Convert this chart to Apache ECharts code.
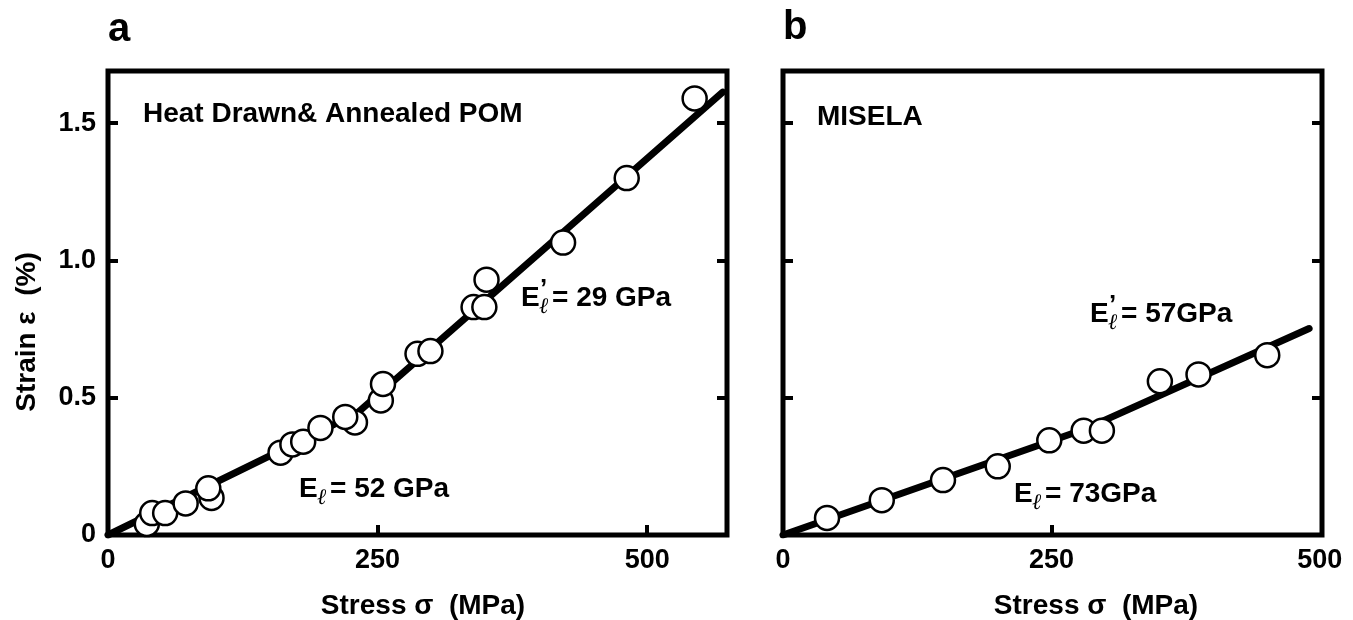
<!DOCTYPE html>
<html>
<head>
<meta charset="utf-8">
<script src="https://cdn.jsdelivr.net/npm/echarts@6/dist/echarts.min.js"></script>
<style>
  html, body { margin: 0; padding: 0; background: #fff; }
  #chart { width: 1353px; height: 620px; }
</style>
</head>
<body>
<div id="chart"></div>
<script>
// Panel a: heat drawn & annealed POM — stress (MPa) vs strain (%)
const stressA = [36, 41, 53, 72, 96, 93, 160, 171, 181, 197, 229, 220, 253, 255, 287, 299, 339, 349, 351, 422, 481, 544];
const strainA = [0.04, 0.08, 0.08, 0.115, 0.135, 0.17, 0.30, 0.33, 0.34, 0.39, 0.41, 0.43, 0.49, 0.55, 0.66, 0.67, 0.83, 0.83, 0.93, 1.065, 1.30, 1.59];
// Two-slope fit for panel a (El = 52 GPa, then E'l = 29 GPa)
const fitStressA = [0, 231, 570];
const fitStrainA = [0, 0.444, 1.613];

// Panel b: MISELA
const stressB = [41, 92, 149, 200, 248, 280, 297, 351, 387, 451];
const strainB = [0.062, 0.127, 0.20, 0.25, 0.345, 0.38, 0.38, 0.56, 0.585, 0.655];
// Two-slope fit for panel b (El = 73 GPa, then E'l = 57 GPa)
const fitStressB = [0, 280, 490];
const fitStrainB = [0, 0.384, 0.752];

// Axis ticks and labels
const xLabelsA = [0, 250, 500];
const xTicksA = [250, 500];
const xLabelsB = [0, 250, 500];
const xTicksB = [250];
const yLabels = [0, 0.5, 1.0, 1.5];
const yTicks = [0.5, 1.0, 1.5];

const FONT = "'Liberation Sans', Arial, Helvetica, sans-serif";
const pairs = (xs, ys) => xs.map((x, i) => [x, ys[i]]);

const tickStyle = { show: true, inside: true, length: 10, lineStyle: { color: '#000', width: 4 } };
const labelStyle = { color: '#000', fontFamily: FONT, fontWeight: 'bold', fontSize: 27 };

function xAxis(gridIndex, max, labels, ticks) {
  return {
    type: 'value', gridIndex, min: 0, max,
    axisLine: { show: false }, splitLine: { show: false },
    axisTick: Object.assign({ customValues: ticks }, tickStyle),
    axisLabel: Object.assign({ customValues: labels, margin: 12 }, labelStyle)
  };
}
function yAxis(gridIndex, position, showLabels) {
  return {
    type: 'value', gridIndex, position, min: 0, max: 1.69,
    axisLine: { show: false }, splitLine: { show: false },
    axisTick: Object.assign({ customValues: yTicks }, tickStyle),
    axisLabel: Object.assign({
      show: showLabels, customValues: yLabels, margin: 12,
      formatter: v => (v === 0 ? '0' : v.toFixed(1))
    }, labelStyle)
  };
}

function lineSeries(xi, yi, xs, ys) {
  return {
    type: 'line', xAxisIndex: xi, yAxisIndex: yi, data: pairs(xs, ys),
    showSymbol: false, symbol: 'none', z: 2, silent: true,
    lineStyle: { color: '#000', width: 7, cap: 'round' }
  };
}
function dotSeries(xi, yi, xs, ys) {
  return {
    type: 'scatter', xAxisIndex: xi, yAxisIndex: yi, data: pairs(xs, ys),
    symbol: 'circle', symbolSize: 24, z: 3,
    itemStyle: { color: '#fff', borderColor: '#000', borderWidth: 2.5, opacity: 1 }
  };
}

function txt(x, y, text, size, extra) {
  return {
    type: 'text', x, y, z: 10,
    style: Object.assign({
      text, fill: '#000', fontFamily: FONT, fontWeight: 'bold', fontSize: size,
      align: 'left', verticalAlign: 'middle'
    }, extra || {})
  };
}

// Modulus label: E with subscript script-l, optional prime, then the value
function modulus(x, y, prime, rest) {
  const children = [
    txt(0, 0, 'E', 28),
    txt(18, 9, 'ℓ', 22, { fontFamily: "'DejaVu Serif', serif", fontStyle: 'italic', fontWeight: 'normal' }),
    txt(31, 0, rest, 28)
  ];
  if (prime) children.push(txt(19, -8, '’', 26));
  return { type: 'group', x, y, children };
}

const chart = echarts.init(document.getElementById('chart'), null, { renderer: 'canvas' });

chart.setOption({
  animation: false,
  backgroundColor: '#fff',
  grid: [
    { left: 108, right: 626, top: 71, bottom: 85, show: true, borderColor: '#000', borderWidth: 5, backgroundColor: 'transparent' },
    { left: 783, right: 31, top: 71, bottom: 85, show: true, borderColor: '#000', borderWidth: 5, backgroundColor: 'transparent' }
  ],
  xAxis: [
    xAxis(0, 574, xLabelsA, xTicksA),
    xAxis(1, 502, xLabelsB, xTicksB)
  ],
  yAxis: [
    yAxis(0, 'left', true),
    yAxis(0, 'right', false),
    yAxis(1, 'left', false),
    yAxis(1, 'right', false)
  ],
  series: [
    lineSeries(0, 0, fitStressA, fitStrainA),
    dotSeries(0, 0, stressA, strainA),
    lineSeries(1, 2, fitStressB, fitStrainB),
    dotSeries(1, 2, stressB, strainB)
  ],
  graphic: [
    txt(108, 30, 'a', 40),
    txt(783, 28, 'b', 40),
    txt(143, 114, 'Heat Drawn& Annealed POM', 28),
    txt(817, 117, 'MISELA', 28),
    modulus(521, 298, true, '= 29 GPa'),
    modulus(299, 489, false, '= 52 GPa'),
    modulus(1090, 314, true, '= 57GPa'),
    modulus(1014, 494, false, '= 73GPa'),
    txt(423, 606, 'Stress σ  (MPa)', 28, { align: 'center' }),
    txt(1096, 606, 'Stress σ  (MPa)', 28, { align: 'center' }),
    {
      type: 'text', x: 27, y: 332, rotation: Math.PI / 2, z: 10,
      style: { text: 'Strain ε  (%)', fill: '#000', fontFamily: FONT, fontWeight: 'bold', fontSize: 28, align: 'center', verticalAlign: 'middle' }
    }
  ]
});
</script>
</body>
</html>
